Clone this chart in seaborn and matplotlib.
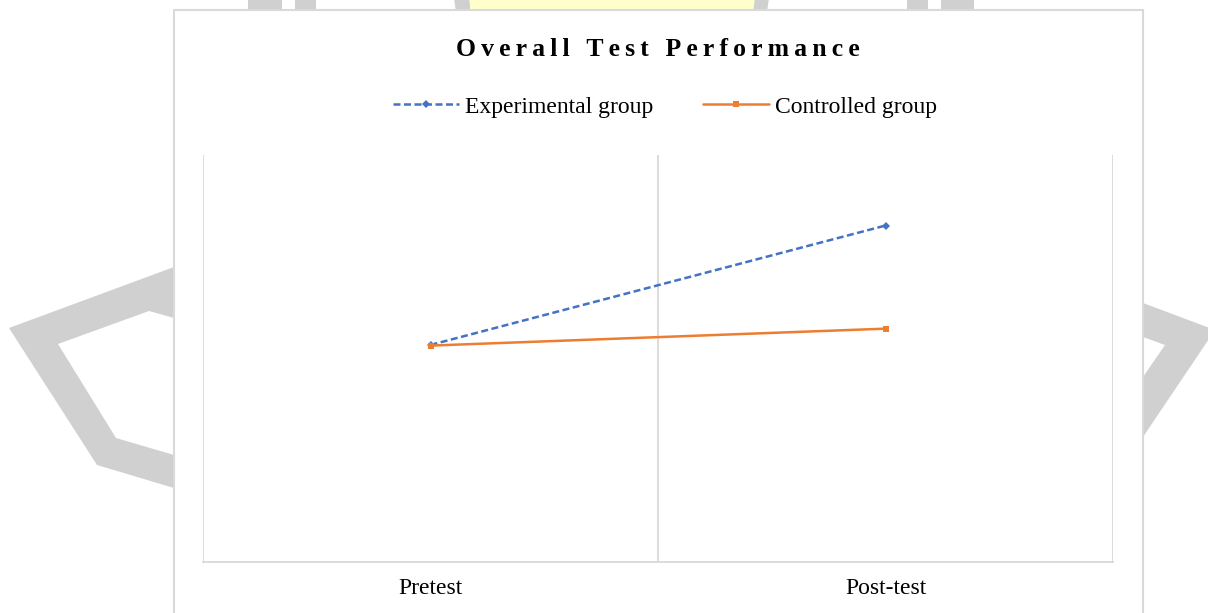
import matplotlib
matplotlib.use("Agg")
import matplotlib.pyplot as plt
from matplotlib.patches import Polygon, Rectangle
import seaborn as sns
import pandas as pd

# ---- data ----
tests = ["Pretest", "Post-test"]
groups = ["Experimental group", "Controlled group"]
experimental = [16.0, 24.8]
controlled = [15.95, 17.2]

df = pd.DataFrame({
    "Test": tests * 2,
    "Score": experimental + controlled,
    "Group": [groups[0]] * 2 + [groups[1]] * 2,
})

sns.set_theme(style="white")
plt.rcParams["font.family"] = ["Liberation Serif", "DejaVu Serif"]
plt.rcParams["text.color"] = "black"

W, H = 1208, 613
fig = plt.figure(figsize=(W / 100, H / 100), dpi=100)


def fx(x):
    return x / W


def fy(y):
    return 1 - y / H


def poly(pts, color, z):
    p = Polygon([(fx(x), fy(y)) for x, y in pts], closed=True, transform=fig.transFigure,
                facecolor=color, edgecolor="none", zorder=z)
    fig.patches.append(p)


# background watermark (decorative)
gray = "#d0d0d0"
poly([(174, 267), (9, 328), (97, 465), (174, 488), (174, 455), (116, 438), (58, 344),
      (149, 311), (174, 318)], gray, -2)
poly([(1143, 303), (1215, 330), (1143, 437), (1143, 377), (1165, 345), (1143, 337)], gray, -2)
for x0, x1 in [(248, 282), (295, 316), (907, 928), (941, 974)]:
    poly([(x0, -2), (x1, -2), (x1, 12), (x0, 12)], gray, -2)
poly([(454, -2), (470, -2), (470, 12), (456, 12)], gray, -2)
poly([(754, -2), (769, -2), (767, 12), (752, 12)], gray, -2)
poly([(469, -2), (755, -2), (753, 12), (471, 12)], "#ffffcc", -2)

# chart box
box = Rectangle((fx(174), fy(620)), fx(1143) - fx(174), fy(10) - fy(620), transform=fig.transFigure,
                facecolor="white", edgecolor="#d9d9d9", linewidth=1.5, zorder=-1)
fig.patches.append(box)

ax = fig.add_axes([fx(203), fy(562), fx(1113) - fx(203), fy(155) - fy(562)])
ax.set_facecolor("none")

palette = {groups[0]: "#4472C4", groups[1]: "#ED7D31"}
sns.lineplot(data=df, x="Test", y="Score", hue="Group", style="Group", hue_order=groups,
             style_order=groups, palette=palette,
             dashes={groups[0]: (2.8, 1.4), groups[1]: ""},
             markers={groups[0]: "D", groups[1]: "s"},
             markersize=4.5, markeredgewidth=0, linewidth=1.8, ax=ax, legend=True, sort=False)

ax.set_xlim(-0.5, 1.5)
ax.set_ylim(0, 30)
ax.set_xticks([0, 1])
ax.set_xticklabels(tests)
ax.set_xticks([-0.5, 0.5, 1.5], minor=True)
ax.grid(True, which="minor", axis="x", color="#d9d9d9", linewidth=1.3)
ax.grid(False, which="major")
ax.set_yticks([])
ax.set_xlabel("")
ax.set_ylabel("")
for s in ["left", "right", "top"]:
    ax.spines[s].set_visible(False)
ax.spines["bottom"].set_color("#d9d9d9")
ax.spines["bottom"].set_linewidth(1.3)
ax.tick_params(axis="x", which="both", length=0, pad=11.5, labelsize=17, labelcolor="black")

handles, labels = ax.get_legend_handles_labels()
ax.legend_.remove()
leg = fig.legend(handles, labels, loc="center", bbox_to_anchor=(fx(665), fy(107)), ncol=2,
                 frameon=False, fontsize=17, handlelength=2.8, handletextpad=0.25,
                 columnspacing=2.1, labelcolor="black")

title = "Overall Test Performance"
spaced = "\u2009 \u2009".join("\u2009".join(word) for word in title.split(" "))
fig.text(fx(658), fy(50), spaced, ha="center", va="center", fontsize=18.5, fontweight="bold",
         color="black")

fig.savefig("out.png", dpi=100)
